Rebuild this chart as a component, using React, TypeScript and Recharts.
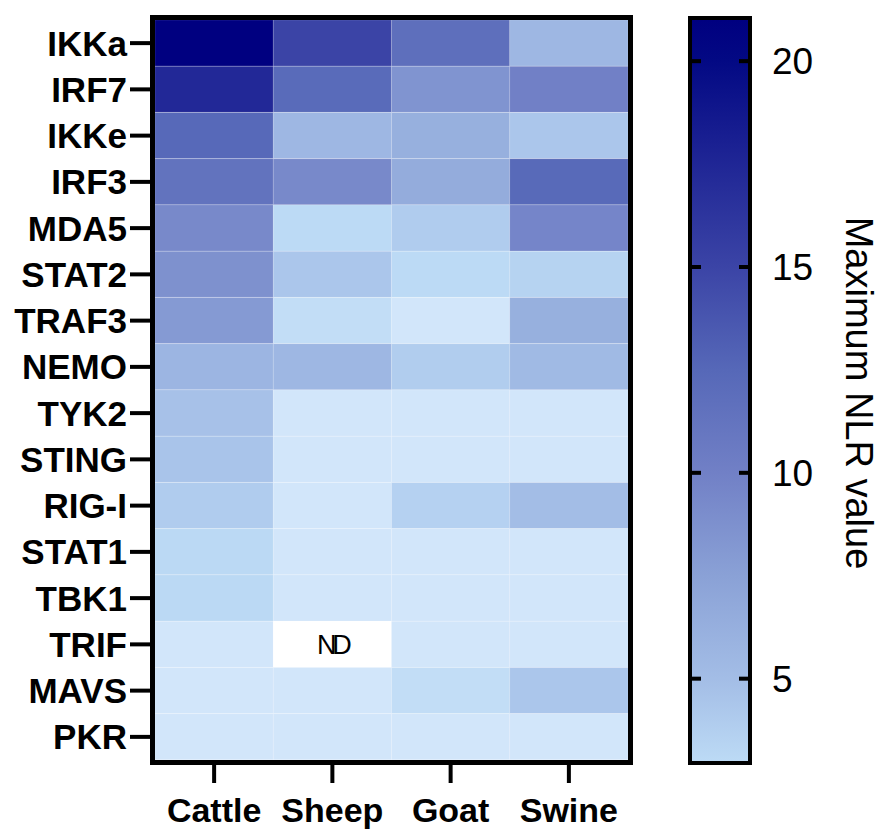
import React from "react";
import { BarChart, Bar, XAxis, YAxis, Cell, LabelList } from "recharts";

// genes top -> bottom, values = maximum NLR per species (null = not determined)
const GENES = ["IKKa", "IRF7", "IKKe", "IRF3", "MDA5", "STAT2", "TRAF3", "NEMO", "TYK2", "STING", "RIG-I", "STAT1", "TBK1", "TRIF", "MAVS", "PKR"];
const SPECIES = ["Cattle", "Sheep", "Goat", "Swine"];
const CATTLE = [21, 17.3, 12.4, 11.4, 9.3, 8.7, 8, 5.7, 4.7, 4.5, 4, 3.1, 3.1, 1.5, 1.5, 1.5];
const SHEEP = [15, 12.2, 5.5, 9.3, 3, 4.4, 2.6, 5.5, 1.5, 1.5, 1.5, 1.5, 1.5, null, 1.5, 1.5];
const GOAT = [11.8, 8.5, 6.2, 6.5, 4, 3, 1.5, 3.9, 1.5, 1.5, 3.6, 1.5, 1.5, 1.5, 2.6, 1.5];
const SWINE = [5.5, 10, 4.4, 12.3, 9.6, 3.5, 6.2, 5.3, 1.5, 1.5, 5, 1.5, 1.5, 1.5, 4.4, 1.5];
const SCALE_TICKS = [5, 10, 15, 20];
const SCALE_MIN = 3;
const SCALE_MAX = 21;

const FONT = "'Liberation Sans', Arial, Helvetica, sans-serif";

// value -> rgb, colour scale used by the heatmap and the colour bar
const COLOR_STOPS: [number, [number, number, number]][] = [
  [1.5, [210, 230, 250]],
  [3, [188, 218, 245]],
  [5, [163, 189, 230]],
  [7.5, [138, 161, 214]],
  [10, [113, 128, 198]],
  [12.5, [86, 104, 184]],
  [15, [59, 68, 166]],
  [18, [26, 32, 146]],
  [20, [3, 9, 132]],
  [21, [0, 0, 128]],
];

function nlrColor(v: number | null) {
  if (v == null) return "#ffffff";
  const stops = COLOR_STOPS;
  if (v <= stops[0][0]) return `rgb(${stops[0][1].join(",")})`;
  for (let i = 1; i < stops.length; i++) {
    const [v1, c1] = stops[i];
    const [v0, c0] = stops[i - 1];
    if (v <= v1) {
      const t = (v - v0) / (v1 - v0);
      const c = c0.map((a, k) => Math.round(a + (c1[k] - a) * t));
      return `rgb(${c.join(",")})`;
    }
  }
  return `rgb(${stops[stops.length - 1][1].join(",")})`;
}

const SERIES: Record<string, (number | null)[]> = { Cattle: CATTLE, Sheep: SHEEP, Goat: GOAT, Swine: SWINE };

const rows = GENES.map((gene, i) => ({
  gene,
  Cattle: CATTLE[i],
  Sheep: SHEEP[i],
  Goat: GOAT[i],
  Swine: SWINE[i],
}));

const scaleData = [{ name: "NLR", range: [SCALE_MIN, SCALE_MAX] }];

// eslint-disable-next-line @typescript-eslint/no-explicit-any
function NdLabel(props: any) {
  const { x, y, width, height, value } = props;
  if (value != null) return null;
  return (
    <text
      x={x + width / 2}
      y={y + height / 2}
      dy="0.36em"
      textAnchor="middle"
      fontFamily={FONT}
      fontSize={27}
      letterSpacing={-4}
      fill="#000"
    >
      ND
    </text>
  );
}

const CB_LEFT = 52;
const CB_RIGHT = 108;

// eslint-disable-next-line @typescript-eslint/no-explicit-any
function ScaleTick(props: any) {
  const { y, payload } = props;
  return (
    <g>
      <line x1={CB_LEFT} x2={CB_LEFT + 9} y1={y} y2={y} stroke="#000" strokeWidth={4} />
      <line x1={CB_RIGHT - 9} x2={CB_RIGHT} y1={y} y2={y} stroke="#000" strokeWidth={4} />
      <text x={132} y={y} dy="0.355em" fontFamily={FONT} fontSize={37} fill="#000">
        {payload.value}
      </text>
    </g>
  );
}

export default function App() {
  const gradStops = COLOR_STOPS.filter(([v]) => v >= SCALE_MIN).map(([v]) => v);
  return (
    <div style={{ position: "absolute", left: 0, top: 0, width: 881, height: 829, background: "#fff" }}>
      <div style={{ position: "absolute", left: 0, top: 0 }}>
        <BarChart
          width={881}
          height={829}
          data={rows}
          layout="vertical"
          barCategoryGap={0}
          margin={{ top: 20, right: 253, bottom: 0, left: 5 }}
        >
          <XAxis
            type="number"
            domain={[0, 4]}
            ticks={[0.5, 1.5, 2.5, 3.5]}
            tickFormatter={(v: number) => SPECIES[Math.floor(v)]}
            interval={0}
            height={69}
            axisLine={false}
            tickSize={23}
            tickMargin={15}
            tickLine={{ stroke: "#000", strokeWidth: 4 }}
            tick={{ fontSize: 34, fontWeight: 700, fill: "#000", fontFamily: FONT }}
          />
          <YAxis
            type="category"
            dataKey="gene"
            width={150}
            interval={0}
            axisLine={false}
            tickSize={25}
            tickMargin={3}
            tickLine={{ stroke: "#000", strokeWidth: 4 }}
            tick={{ fontSize: 35, fontWeight: 700, fill: "#000", fontFamily: FONT }}
          />
          {SPECIES.map((sp) => (
            <Bar key={sp} dataKey={() => 1} stackId="cells" isAnimationActive={false}>
              {rows.map((r, i) => (
                <Cell key={i} fill={nlrColor(SERIES[sp][i])} stroke="rgba(255,255,255,0.12)" strokeWidth={1} />
              ))}
              {sp === "Sheep" && <LabelList dataKey="Sheep" content={NdLabel} />}
            </Bar>
          ))}
        </BarChart>
      </div>
      <div style={{ position: "absolute", left: 640, top: 0 }}>
        <BarChart
          width={241}
          height={829}
          data={scaleData}
          barCategoryGap={0}
          margin={{ top: 20, right: 53, bottom: 68, left: 52 }}
        >
          <defs>
            <linearGradient id="nlrGrad" x1="0" y1="0" x2="0" y2="1">
              {gradStops
                .slice()
                .reverse()
                .map((v) => (
                  <stop
                    key={v}
                    offset={`${((SCALE_MAX - v) / (SCALE_MAX - SCALE_MIN)) * 100}%`}
                    stopColor={nlrColor(v)}
                  />
                ))}
            </linearGradient>
          </defs>
          <XAxis dataKey="name" hide />
          <YAxis
            yAxisId={0}
            orientation="right"
            type="number"
            domain={[SCALE_MIN, SCALE_MAX]}
            ticks={SCALE_TICKS}
            width={80}
            axisLine={false}
            tickLine={false}
            tick={<ScaleTick />}
            label={{
              content: () => (
                <text
                  x={219}
                  y={393}
                  transform="rotate(90 219 393)"
                  textAnchor="middle"
                  dy="0.355em"
                  fontFamily={FONT}
                  fontSize={38}
                  fill="#000"
                >
                  Maximum NLR value
                </text>
              ),
            }}
          />
          <Bar dataKey="range" fill="url(#nlrGrad)" isAnimationActive={false} />
        </BarChart>
      </div>
      <div
        style={{
          position: "absolute",
          left: 150,
          top: 15,
          width: 483,
          height: 750,
          border: "5px solid #000",
          boxSizing: "border-box",
        }}
      />
      <div
        style={{
          position: "absolute",
          left: 688,
          top: 16,
          width: 64,
          height: 749,
          border: "4.5px solid #000",
          boxSizing: "border-box",
        }}
      />
    </div>
  );
}
